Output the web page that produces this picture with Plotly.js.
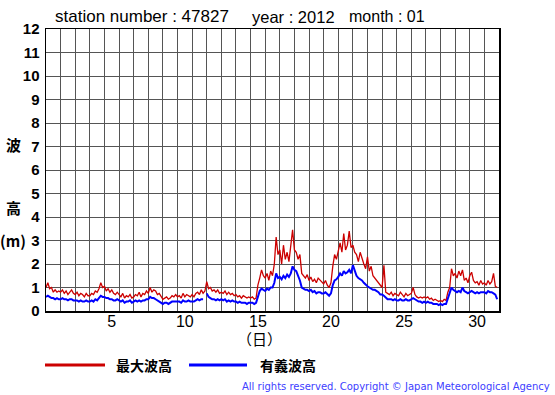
<!DOCTYPE html>
<html><head><meta charset="utf-8">
<script src="https://cdn.plot.ly/plotly-3.0.1.min.js"></script>
<style>html,body{margin:0;padding:0;background:#fff}#c{width:555px;height:395px}</style>
</head><body><div id="c"></div>
<script>
// ---- data (3-hourly readings, Jan 2012, station 47827) ----
const days = Array.from({length:31},(_,i)=>i+1);
const hours = [0,3,6,9,12,15,18,21];
const maxWave = [ // 最大波高 (m)
 1.0,1.2,0.95,1.0,0.8,0.9,0.8,0.85,
 0.8,0.9,0.75,0.85,0.7,0.8,0.9,0.75,
 0.7,0.8,0.65,0.75,0.7,0.6,0.75,0.65,
 0.65,0.75,0.7,0.85,0.8,0.95,1.2,1.0,
 1.05,0.85,0.95,0.8,0.9,0.75,0.7,0.8,
 0.7,0.6,0.75,0.55,0.65,0.6,0.7,0.55,
 0.6,0.7,0.65,0.8,0.6,0.75,0.7,0.85,
 0.75,1.0,0.8,0.9,0.85,0.7,0.75,0.6,
 0.5,0.55,0.6,0.5,0.55,0.65,0.6,0.7,
 0.6,0.65,0.55,0.75,0.6,0.7,0.65,0.6,
 0.7,0.6,0.75,0.8,0.7,0.9,0.75,0.85,
 1.25,0.95,1.0,0.85,0.9,0.8,0.9,0.75,
 0.8,0.75,0.85,0.7,0.8,0.7,0.75,0.65,
 0.7,0.6,0.65,0.55,0.65,0.6,0.55,0.6,
 0.55,0.6,0.5,0.55,1.1,1.4,1.75,1.5,
 1.4,1.6,1.3,1.7,1.5,2.0,3.15,2.4,
 2.6,2.0,2.8,2.2,2.5,2.1,2.7,3.45,
 2.6,2.5,2.2,2.4,1.6,1.5,1.4,1.55,
 1.3,1.45,1.25,1.35,1.2,1.4,1.3,1.2,
 1.15,1.3,1.1,1.0,1.2,1.9,2.4,2.2,
 2.6,2.9,2.5,3.3,2.6,2.8,3.4,2.7,
 2.8,2.5,2.4,2.1,2.5,2.2,2.0,1.8,
 2.3,1.7,1.9,1.5,1.4,1.3,1.2,1.1,
 1.0,1.95,0.8,0.75,0.7,0.8,0.65,0.75,
 0.7,0.65,0.8,0.7,0.6,0.75,0.65,0.7,
 0.75,1.0,0.7,0.6,0.55,0.6,0.55,0.6,
 0.55,0.6,0.5,0.55,0.45,0.5,0.45,0.4,
 0.45,0.4,0.5,0.45,0.8,1.0,1.8,1.5,
 1.6,1.4,1.7,1.5,1.75,1.3,1.4,1.2,
 1.5,1.65,1.3,1.2,1.25,1.1,1.3,1.15,
 1.2,1.1,1.3,1.15,1.25,1.6,1.05,1.0
];
const sigWave = [ // 有義波高 (m)
 0.6,0.65,0.6,0.55,0.55,0.5,0.55,0.5,
 0.5,0.55,0.5,0.5,0.45,0.5,0.5,0.45,
 0.45,0.45,0.4,0.45,0.4,0.4,0.45,0.4,
 0.4,0.45,0.4,0.5,0.45,0.55,0.65,0.6,
 0.6,0.55,0.55,0.5,0.5,0.45,0.45,0.5,
 0.45,0.4,0.45,0.35,0.4,0.4,0.45,0.35,
 0.4,0.45,0.4,0.45,0.4,0.45,0.45,0.5,
 0.5,0.6,0.55,0.55,0.5,0.45,0.4,0.35,
 0.3,0.35,0.35,0.3,0.35,0.4,0.4,0.4,
 0.4,0.4,0.35,0.45,0.4,0.4,0.45,0.4,
 0.4,0.4,0.45,0.5,0.45,0.5,0.5,null,
 0.75,0.6,0.55,0.5,0.5,0.45,0.5,0.45,
 0.5,0.45,0.5,0.4,0.45,0.4,0.45,0.4,
 0.4,0.35,0.4,0.35,0.35,0.35,0.3,0.35,
 0.35,0.35,0.3,0.35,0.6,0.85,0.95,0.9,
 0.85,0.95,0.9,1.0,1.0,1.2,1.6,1.4,
 1.45,1.35,1.5,1.4,1.55,1.45,1.6,1.9,
 1.75,1.7,1.5,1.3,1.0,0.95,0.9,0.9,
 0.85,0.9,0.8,0.85,0.75,0.8,0.8,0.75,
 0.75,0.8,0.7,0.65,0.75,1.1,1.3,1.35,
 1.45,1.6,1.5,1.7,1.6,1.65,1.75,1.6,
 1.95,1.7,1.5,1.4,1.35,1.3,1.2,1.1,
 1.05,1.0,0.95,0.9,0.9,0.85,0.8,0.7,
 0.7,0.65,0.55,0.5,0.5,0.5,0.45,0.5,
 0.45,0.45,0.5,0.45,0.45,0.5,0.45,0.45,
 0.5,0.55,0.5,0.45,0.4,0.4,0.35,0.4,
 0.35,0.4,0.35,0.35,0.3,0.3,0.3,0.25,
 0.3,0.25,0.3,0.3,0.55,0.7,1.0,0.9,
 0.85,0.8,0.85,0.8,1.0,0.85,0.8,0.75,
 0.8,0.85,0.8,0.75,0.8,0.75,0.8,0.8,
 0.8,0.75,0.85,0.8,0.8,0.75,0.7,0.5
];
const dayTickVals = [5.5,10.5,15.5,20.5,25.5,30.5];
const dayTickText = ['5','10','15','20','25','30'];
const seriesNames = ['最大波高','有義波高'];
const station = '47827', year = '2012', month = '01';

// time axis: day-of-month + fraction
const t = [];
days.forEach(d => hours.forEach(h => t.push(d + h/24)));

// ---- layout helpers (pixel -> paper) ----
const L=46, R=499, T=29, B=311;
const px = x => (x-L)/(R-L);
const py = y => (B-y)/(B-T);

const traces = [
  {x:t, y:maxWave, type:'scatter', mode:'lines', name:seriesNames[0],
   line:{color:'#cc0000', width:1.3}, showlegend:false, connectgaps:false},
  {x:t, y:sigWave, type:'scatter', mode:'lines', name:seriesNames[1],
   line:{color:'#0000ff', width:2}, showlegend:false, connectgaps:false}
];

const sans = 'Liberation Sans, Arial, sans-serif';
const ann = (x,y,text,opts={}) => Object.assign({xref:'paper',yref:'paper',x:px(x),y:py(y),text:text,showarrow:false,
  font:{family:sans,size:15,color:'#000'},xanchor:'left',yanchor:'middle'},opts);
const jfont = {family:'Noto Sans CJK JP, sans-serif',size:15,color:'#000',weight:'bold'};
const tfont = {family:sans,size:17,color:'#000'};

const layout = {
  width:555, height:395,
  margin:{l:L, r:555-R, t:T, b:395-B, pad:0},
  paper_bgcolor:'#fff', plot_bgcolor:'#fff',
  showlegend:false,
  xaxis:{range:[1,32], tickmode:'array', tickvals:dayTickVals, ticktext:dayTickText,
    showgrid:false, zeroline:false, ticks:'', showline:true, mirror:true, linecolor:'#000', linewidth:1.5,
    ticklabelstandoff:-5,
    tickfont:{family:sans, size:16, color:'#000'},
    minor:{tick0:1, dtick:1, showgrid:true, gridcolor:'#555', gridwidth:1, ticks:''}},
  yaxis:{range:[0,12], tickmode:'linear', tick0:0, dtick:1, showgrid:true, gridcolor:'#555', gridwidth:1,
    zeroline:false, ticks:'', showline:true, mirror:true, linecolor:'#000', linewidth:1.5,
    ticklabelstandoff:2,
    tickfont:{family:sans, size:15, color:'#000', weight:'bold'}},
  annotations:[
    ann(53,17,'station number : '+station,{font:tfont}),
    ann(250,17,'year : '+year,{font:{family:sans,size:16.5,color:'#000'}}),
    ann(347,17,'month : '+month,{font:{family:sans,size:16,color:'#000'}}),
    ann(13,144,'波',{font:jfont,xanchor:'center'}),
    ann(13,207,'高',{font:jfont,xanchor:'center'}),
    ann(13,240,'(m)',{font:jfont,xanchor:'center'}),
    ann(259,338,'（日）',{font:{family:'Noto Sans CJK JP, sans-serif',size:15,color:'#000'},xanchor:'center'}),
    ann(114,365,seriesNames[0],{font:{family:'Noto Sans CJK JP, sans-serif',size:14,color:'#000',weight:'bold'}}),
    ann(258,365,seriesNames[1],{font:{family:'Noto Sans CJK JP, sans-serif',size:14,color:'#000',weight:'bold'}}),
    ann(552,386,'All rights reserved. Copyright © Japan Meteorological Agency',
      {xanchor:'right',font:{family:'DejaVu Sans, sans-serif',size:10,color:'#4040ff'}})
  ],
  shapes:[
    {type:'line',xref:'paper',yref:'paper',x0:px(45),x1:px(105),y0:py(365),y1:py(365),line:{color:'#cc0000',width:3}},
    {type:'line',xref:'paper',yref:'paper',x0:px(189),x1:px(247),y0:py(365),y1:py(365),line:{color:'#0000ff',width:3}}
  ]
};
Plotly.newPlot('c', traces, layout, {staticPlot:true, displayModeBar:false});
</script>
</body></html>
